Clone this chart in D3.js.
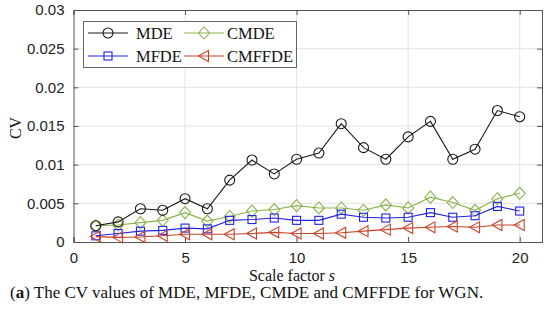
<!DOCTYPE html>
<html><head><meta charset="utf-8">
<script src="https://cdn.jsdelivr.net/npm/d3@7"></script>
<style>body{margin:0;background:#fff}svg{display:block}</style>
</head><body><svg id="c" width="550" height="320"></svg>
<script>
const scales = [1,2,3,4,5,6,7,8,9,10,11,12,13,14,15,16,17,18,19,20];
const mde    = [0.0021,0.0026,0.0043,0.0041,0.0056,0.0043,0.0080,0.0106,0.0088,0.0107,0.0115,0.0153,0.0122,0.0107,0.0136,0.0156,0.0107,0.0120,0.0170,0.0162];
const mfde   = [0.0008,0.0011,0.0014,0.0015,0.0018,0.0017,0.0028,0.0029,0.0031,0.0028,0.0028,0.0036,0.0032,0.0031,0.0032,0.0038,0.0032,0.0034,0.0046,0.0040];
const cmde   = [0.0021,0.0022,0.0025,0.0028,0.0038,0.0027,0.0033,0.0040,0.0042,0.0047,0.0044,0.0044,0.0041,0.0048,0.0044,0.0058,0.0051,0.0041,0.0056,0.0063];
const cmffde = [0.0007,0.0006,0.00065,0.0008,0.0010,0.0010,0.0010,0.0011,0.00125,0.0011,0.0011,0.0012,0.0014,0.0016,0.0018,0.0019,0.0020,0.0019,0.0022,0.0022];
const xTicks = [0,5,10,15,20];
const yTicks = [0,0.005,0.01,0.015,0.02,0.025,0.03];
const yTickLabels = ["0","0.005","0.01","0.015","0.02","0.025","0.03"];
const seriesNames = ["MDE","MFDE","CMDE","CMFFDE"];
const seriesColors = ["#1a1a1a","#2222e6","#8ab34a","#c9452a"];
const seriesMarkers = ["circle","square","diamond","triangle"];

const svg = d3.select("#c");
const L=73.5, R=542, T=10, B=242;
const x = d3.scaleLinear().domain([0,21]).range([L,R]);
const y = d3.scaleLinear().domain([0,0.03]).range([B,T]);

// grid
const g = svg.append("g");
g.selectAll(".gx").data(xTicks.filter(d=>d>0)).enter().append("line")
 .attr("x1",d=>x(d)).attr("x2",d=>x(d)).attr("y1",T).attr("y2",B)
 .attr("stroke","#e3e3e3").attr("stroke-width",1);
g.selectAll(".gy").data(yTicks.filter(d=>d>0 && d<0.03)).enter().append("line")
 .attr("x1",L).attr("x2",R).attr("y1",d=>y(d)).attr("y2",d=>y(d))
 .attr("stroke","#e3e3e3").attr("stroke-width",1);

// axes
const fontAx = "'Liberation Sans', Arial, sans-serif";
const xAxis = d3.axisBottom(x).tickValues(xTicks).tickSize(-5).tickPadding(10).tickFormat(d3.format("d"));
const yAxis = d3.axisLeft(y).tickValues(yTicks).tickSize(-5).tickPadding(9).tickFormat((d,i)=>yTickLabels[i]);
const xa = svg.append("g").attr("transform",`translate(0,${B})`).call(xAxis);
const ya = svg.append("g").attr("transform",`translate(${L},0)`).call(yAxis);
const xt = svg.append("g").attr("transform",`translate(0,${T})`).call(d3.axisTop(x).tickValues(xTicks).tickSize(-5).tickFormat(""));
const yr = svg.append("g").attr("transform",`translate(${R},0)`).call(d3.axisRight(y).tickValues(yTicks).tickSize(-5).tickFormat(""));
[xa,ya,xt,yr].forEach(a=>{
  a.select(".domain").attr("stroke","#555").attr("stroke-width",1);
  a.selectAll(".tick line").attr("stroke","#555");
  a.selectAll("text").attr("font-family",fontAx).attr("font-size",15).attr("fill","#222");
});

// series
const data = [mde,mfde,cmde,cmffde];
function marker(sel,type,color){
  if(type==="circle") sel.append("circle").attr("r",5);
  else if(type==="square") sel.append("rect").attr("x",-4).attr("y",-4).attr("width",8).attr("height",8);
  else if(type==="diamond") sel.append("path").attr("d","M0,-6L5.5,0L0,6L-5.5,0Z");
  else sel.append("path").attr("d","M-5.5,0L4.5,-5.5L4.5,5.5Z");
  sel.selectAll("*").attr("fill","none").attr("stroke",color).attr("stroke-width",1.1);
}
const line = d3.line().x((d,i)=>x(scales[i])).y(d=>y(d));
const order=[2,1,3,0];
order.forEach(k=>{
  const vals=data[k];
  svg.append("path").datum(vals).attr("d",line).attr("fill","none")
    .attr("stroke",seriesColors[k]).attr("stroke-width",1.1);
  vals.forEach((v,i)=>{
    const m = svg.append("g").attr("transform",`translate(${x(scales[i])},${y(v)})`);
    marker(m,seriesMarkers[k],seriesColors[k]);
  });
});

// legend
const fontSerif = "'Liberation Serif','Times New Roman',serif";
const lg = svg.append("g");
lg.append("rect").attr("x",83.5).attr("y",21.5).attr("width",213).attr("height",46)
  .attr("fill","#fff").attr("stroke","#666").attr("stroke-width",1);
const legPos = [[88,33],[88,56],[184,33],[184,56]];
seriesNames.forEach((n,k)=>{
  const [lx,ly]=legPos[k];
  lg.append("line").attr("x1",lx).attr("x2",lx+40).attr("y1",ly).attr("y2",ly)
    .attr("stroke",seriesColors[k]).attr("stroke-width",1.1);
  const m = lg.append("g").attr("transform",`translate(${lx+20},${ly})`);
  marker(m,seriesMarkers[k],seriesColors[k]);
  lg.append("text").attr("x",lx+(k<2?48:43)).attr("y",ly+5.5).text(n)
    .attr("font-family",fontSerif).attr("font-size",16.5).attr("fill","#111");
});

// labels
svg.append("text").attr("transform","translate(21,128) rotate(-90)").attr("text-anchor","middle")
  .attr("font-family",fontSerif).attr("font-size",16).attr("fill","#111").text("CV");
const xl = svg.append("text").attr("x",292).attr("y",281).attr("text-anchor","middle")
  .attr("font-family",fontSerif).attr("font-size",16).attr("fill","#111");
xl.append("tspan").text("Scale factor ");
xl.append("tspan").attr("font-style","italic").text("s");
const cap = svg.append("text").attr("x",10).attr("y",298)
  .attr("font-family",fontSerif).attr("font-size",17).attr("fill","#111");
cap.append("tspan").text("(");
cap.append("tspan").attr("font-weight","bold").text("a");
cap.append("tspan").text(") The CV values of MDE, MFDE, CMDE and CMFFDE for WGN.");
</script></body></html>
